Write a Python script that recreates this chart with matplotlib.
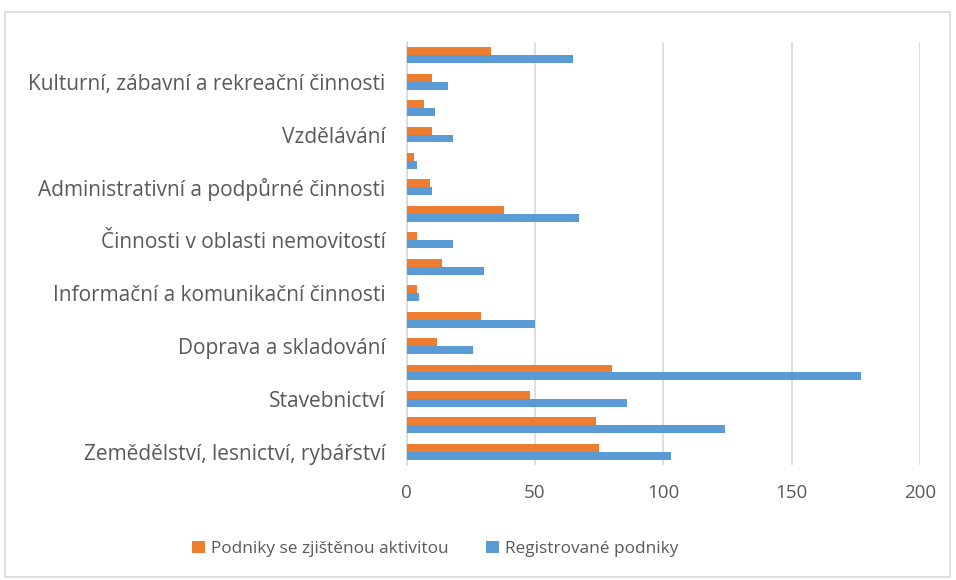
import numpy as np
import matplotlib.pyplot as plt
from matplotlib.patches import Rectangle

# categories from bottom to top (CZ-NACE sections)
categories = ['Zemědělství, lesnictví, rybářství',
              'Průmysl',
              'Stavebnictví',
              'Obchod',
              'Doprava a skladování',
              'Ubytování, stravování a pohostinství',
              'Informační a komunikační činnosti',
              'Peněžnictví a pojišťovnictví',
              'Činnosti v oblasti nemovitostí',
              'Profesní, vědecké a technické činnosti',
              'Administrativní a podpůrné činnosti',
              'Veřejná správa a obrana',
              'Vzdělávání',
              'Zdravotní a sociální péče',
              'Kulturní, zábavní a rekreační činnosti',
              'Ostatní činnosti']
active = [75, 74, 48, 80, 12, 29, 4, 14, 4, 38, 9, 3, 10, 7, 10, 33]
registered = [103, 124, 86, 177, 26, 50, 5, 30, 18, 67, 10, 4, 18, 11, 16, 65]
xticks = [0, 50, 100, 150, 200]

plt.rcParams['font.family'] = ['Open Sans', 'DejaVu Sans']
text_color = '#595959'
grid_color = '#d9d9d9'

fig = plt.figure(figsize=(9.56, 5.8), dpi=100)
fig.patches.append(Rectangle((5 / 956, 3 / 580), 945 / 956, 565 / 580,
                             transform=fig.transFigure, fill=False,
                             edgecolor=grid_color, lw=1.2))
ax = fig.add_axes([406.5 / 956, 1 - 465 / 580, 513.5 / 956, 423 / 580])

y = np.arange(len(categories))
h = 0.3
ax.barh(y + h / 2, active, height=h, color='#ED7D31',
        label='Podniky se zjištěnou aktivitou', zorder=3)
ax.barh(y - h / 2, registered, height=h, color='#5B9BD5',
        label='Registrované podniky', zorder=3)

ax.set_xlim(0, 200)
ax.set_ylim(-0.5, len(categories) - 0.5)
ax.set_xticks(xticks)
ax.set_yticks(y[::2])
ax.set_yticklabels(categories[::2])
ax.tick_params(axis='y', length=0, labelsize=15, colors=text_color, pad=15)
ax.tick_params(axis='x', length=0, labelsize=13.5, colors=text_color, pad=14)
ax.xaxis.grid(True, color=grid_color, lw=1.2, zorder=0)
ax.set_axisbelow(True)
for s in ['top', 'right', 'bottom']:
    ax.spines[s].set_visible(False)
ax.spines['left'].set_color(grid_color)
ax.spines['left'].set_linewidth(1.2)

handles, labels = ax.get_legend_handles_labels()
fig.legend(handles, labels, loc='center', bbox_to_anchor=(435 / 956, 1 - 549 / 580),
           ncol=2, frameon=False, fontsize=12.4, labelcolor=text_color,
           handlelength=0.75, handleheight=0.75, handletextpad=0.35,
           columnspacing=2.2)

fig.savefig('out.png', dpi=100)
